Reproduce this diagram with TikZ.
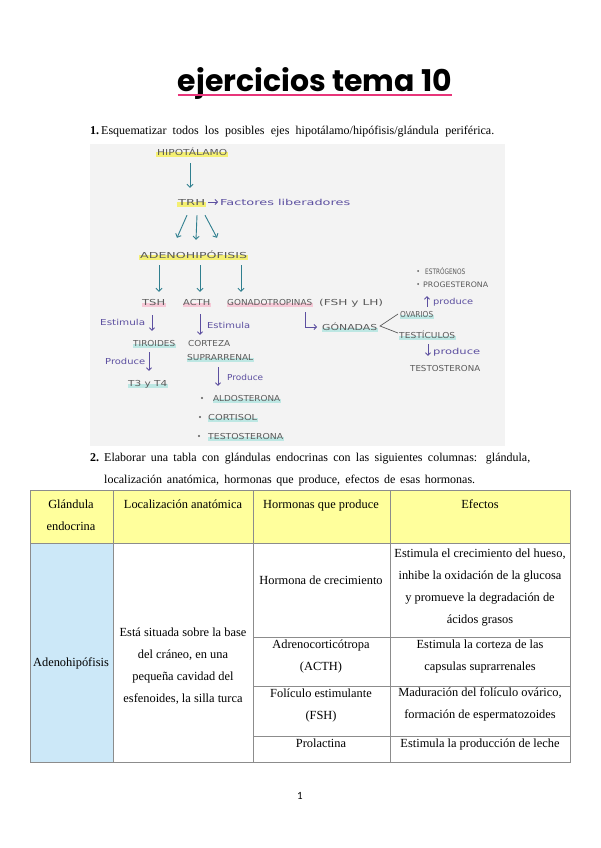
\documentclass[tikz,border=0pt]{standalone}
\usepackage{fontspec}
\setmainfont{Liberation Serif}
\newfontfamily\titlefont{Poppins}
\newfontfamily\hand{DejaVu Sans}
\newfontfamily\pagefont{Carlito}
\usetikzlibrary{arrows.meta,calc,backgrounds}
\definecolor{handc}{HTML}{5A5A5A}
\definecolor{tealc}{HTML}{2F7F8F}
\definecolor{purc}{HTML}{5C4FA0}
\definecolor{hlyel}{HTML}{F4EF72}
\definecolor{hlpink}{HTML}{F6C8D6}
\definecolor{hlteal}{HTML}{BDE7E3}
\definecolor{titlepink}{HTML}{E8357A}
\definecolor{photobg}{HTML}{F3F3F3}
\definecolor{hdrc}{HTML}{FFFF9C}
\definecolor{adnc}{HTML}{CCE8F8}
\definecolor{tlinec}{HTML}{8C8C8C}
\newcommand\hw[3]{\resizebox{#1pt}{#2pt}{\hand\vphantom{H}\smash{#3}}}
\newcommand\cl[1]{\begin{tabular}[t]{@{}c@{}}#1\end{tabular}}
\tikzset{
  hwn/.style={inner sep=0, anchor=base west, text=handc},
  pwn/.style={inner sep=0, anchor=base west, text=purc},
  tarr/.style={draw=tealc, line width=0.9pt, -{Straight Barb[length=3pt,width=6pt]}},
  parr/.style={draw=purc, line width=0.8pt, -{Straight Barb[length=2.5pt,width=5pt]}},
  hly/.style={draw=hlyel, line width=5pt},
  hlp/.style={draw=hlpink, line width=4pt},
  hlt/.style={draw=hlteal, line width=4pt},
  brline/.style={draw=handc, line width=0.7pt},
  tline/.style={draw=tlinec, line width=0.7pt},
  tt/.style={anchor=base, inner sep=0, font=\fontsize{12.4}{22}\selectfont},
  qt/.style={anchor=base west, inner sep=0, font=\fontsize{12}{22}\selectfont},
}
\begin{document}
\begin{tikzpicture}[x=1pt,y=-1pt]
\useasboundingbox (0,0) rectangle (600,848);
\begin{scope}[on background layer]
\fill[white] (0,0) rectangle (600,848);
\fill[photobg] (90,144) rectangle (505,446);
\end{scope}

% title
\node[anchor=base, inner sep=0] (title) at (315,92) {\resizebox{274pt}{!}{\titlefont\bfseries ejercicios tema 10}};
\draw[titlepink, line width=2pt] ($(title.base west)+(0,3.5)$) -- ($(title.base east)+(0,3.5)$);

% question 1
\node[qt] (q1) at (90,135) {\makebox[404pt][s]{\textbf{1.}\,Esquematizar todos los posibles ejes hipotálamo/hipófisis/glándula periférica.}};

% handwritten nodes
\node[hwn] (hip) at (157,155) {\hw{70}{6}{HIPOTÁLAMO}};
\node[hwn] (trh) at (178,205) {\hw{27}{6}{TRH}};
\node[pwn] (lib) at (220,205) {\hw{130}{6}{Factores liberadores}};
\node[hwn] (adeno) at (140,258) {\hw{107}{6}{ADENOHIPÓFISIS}};
\node[hwn] (tsh) at (142,305) {\hw{23}{6}{TSH}};
\node[hwn] (acth) at (183,305) {\hw{27}{6}{ACTH}};
\node[hwn] (gon) at (227,305) {\hw{85}{6}{GONADOTROPINAS}};
\node[hwn] (fshlh) at (319,305) {\hw{64}{6}{(FSH y LH)}};
\node[pwn] (est1) at (100,325) {\hw{45}{6}{Estimula}};
\node[pwn] (est2) at (207,328) {\hw{43}{6}{Estimula}};
\node[hwn] (tir) at (133,346) {\hw{42}{6}{TIROIDES}};
\node[hwn] (cor) at (188,346) {\hw{42}{6}{CORTEZA}};
\node[hwn] (sup) at (187,360) {\hw{66}{6}{SUPRARRENAL}};
\node[pwn] (pro1) at (105,364) {\hw{40}{6}{Produce}};
\node[hwn] (t3) at (128,386) {\hw{39}{6}{T3 y T4}};
\node[pwn] (pro2) at (227,380) {\hw{36}{6}{Produce}};
\node[hwn] (ald) at (213,401) {\hw{67}{6}{ALDOSTERONA}};
\node[hwn] (cort) at (208,420) {\hw{49}{6}{CORTISOL}};
\node[hwn] (test) at (208,439) {\hw{75}{6}{TESTOSTERONA}};
\node[hwn] (gond) at (322,330) {\hw{55}{6}{GÓNADAS}};
\node[hwn] (ov) at (400,317) {\hw{33}{6}{OVARIOS}};
\node[hwn] (tes) at (399,338) {\hw{56}{6}{TESTÍCULOS}};
\node[hwn] (estr) at (425,274) {\hw{40}{5.5}{ESTRÓGENOS}};
\node[hwn] (prog) at (423,287) {\hw{65}{5.5}{PROGESTERONA}};
\node[pwn] (produ) at (433,304) {\hw{40}{6}{produce}};
\node[pwn] (prodd) at (433,354) {\hw{47}{6}{produce}};
\node[hwn] (test2) at (410,371) {\hw{70}{6}{TESTOSTERONA}};
\coordinate (tip) at (380,326);

% bullets
\fill[handc] (202,398) circle (1.1pt);
\fill[handc] (200,417) circle (1.1pt);
\fill[handc] (199,436) circle (1.1pt);
\fill[handc] (418,271) circle (1pt);
\fill[handc] (418,284) circle (1pt);

% highlights
\begin{scope}[on background layer]
\draw[hly] ($(hip.south west)+(-1,-1)$) -- ($(hip.south east)+(1,-1)$);
\draw[hly] ($(trh.south west)+(-1,-1)$) -- ($(trh.south east)+(1,-1)$);
\draw[hly] ($(adeno.south west)+(-1,-1)$) -- ($(adeno.south east)+(1,-1)$);
\draw[hlp] ($(tsh.south west)+(0,0)$) -- ($(tsh.south east)+(1,0)$);
\draw[hlp] ($(acth.south west)+(0,0)$) -- ($(acth.south east)+(1,0)$);
\draw[hlp] ($(gon.south west)+(0,0)$) -- ($(gon.south east)+(1,0)$);
\draw[hlt] ($(tir.south west)+(0,0)$) -- ($(tir.south east)+(1,0)$);
\draw[hlt] ($(sup.south west)+(0,0)$) -- ($(sup.south east)+(1,0)$);
\draw[hlt] ($(t3.south west)+(0,0)$) -- ($(t3.south east)+(1,0)$);
\draw[hlt] ($(ald.south west)+(0,0)$) -- ($(ald.south east)+(1,0)$);
\draw[hlt] ($(cort.south west)+(0,0)$) -- ($(cort.south east)+(1,0)$);
\draw[hlt] ($(test.south west)+(0,0)$) -- ($(test.south east)+(1,0)$);
\draw[hlt] ($(gond.south west)+(0,0)$) -- ($(gond.south east)+(1,0)$);
\draw[hlt] ($(ov.south west)+(0,0)$) -- ($(ov.south east)+(1,0)$);
\draw[hlt] ($(tes.south west)+(0,0)$) -- ($(tes.south east)+(1,0)$);
\end{scope}

% arrows
\draw[tarr] ($(hip.south west)+(33,8)$) -- ($(trh.north west)+(12,-11)$);
\draw[parr] ($(trh.east)+(3,0)$) -- ($(lib.west)+(-2,0)$);
\draw[tarr] ($(trh.south west)+(9,10)$) -- ($(adeno.north west)+(37,-14)$);
\draw[tarr] ($(trh.south west)+(19,10)$) -- ($(adeno.north west)+(56,-12)$);
\draw[tarr] ($(trh.south west)+(27,10)$) -- ($(adeno.north west)+(77,-14)$);
\draw[tarr] ($(adeno.south west)+(19,7)$) -- ($(tsh.north west)+(17,-7)$);
\draw[tarr] ($(adeno.south west)+(60,7)$) -- ($(acth.north west)+(17,-7)$);
\draw[tarr] ($(adeno.south west)+(101,7)$) -- ($(gon.north west)+(14,-7)$);
\draw[parr] ($(tsh.south west)+(10,10)$) -- ($(tir.north west)+(19,-9)$);
\draw[parr] ($(acth.south west)+(17,9)$) -- ($(cor.north west)+(12,-5)$);
\draw[parr] ($(tir.south west)+(16,6)$) -- ($(t3.north west)+(21,-9)$);
\draw[parr] ($(sup.south west)+(31,7)$) -- ($(ald.north west)+(5,-9)$);
\draw[parr, shorten >=5pt] ($(gon.south east)+(-7,7)$) |- (gond.west);
\draw[brline] ($(ov.west)+(-2,0)$) -- (tip) -- ($(tes.west)+(-1,-2)$);
\draw[parr] ($(ov.north west)+(27,-4)$) -- ($(prog.south west)+(4,9)$);
\draw[parr] ($(tes.south west)+(29,6)$) -- ($(test2.north west)+(18,-9)$);

% question 2
\node[qt] (q2n) at (90,461) {\textbf{2.}};
\node[qt] (q2a) at (104,461) {\makebox[426pt][s]{Elaborar una tabla con glándulas endocrinas con las siguientes columnas: glándula,}};
\node[qt] (q2b) at (104,483) {\makebox[371pt][s]{localización anatómica, hormonas que produce, efectos de esas hormonas.}};

% table
\fill[hdrc] (30,490) rectangle (570,543);
\fill[adnc] (30,543) rectangle (113,762);
\draw[tline] (30,490) rectangle (570,762);
\draw[tline] (30,543) -- (570,543);
\foreach \x in {113,253,390} \draw[tline] (\x,490) -- (\x,762);
\foreach \y in {637,686,736} \draw[tline] (253,\y) -- (570,\y);

\node[tt] (h1) at (71,508) {\cl{Glándula\\endocrina}};
\node[tt] (h2) at (183,508) {Localización anatómica};
\node[tt] (h3) at (321,508) {Hormonas que produce};
\node[tt] (h4) at (480,508) {Efectos};
\node[tt] (g1) at (71,666) {Adenohipófisis};
\node[tt] (loc) at (183,636) {\cl{Está situada sobre la base\\del cráneo, en una\\pequeña cavidad del\\esfenoides, la silla turca}};
\node[tt] (hc) at (321,584) {Hormona de crecimiento};
\node[tt] (acthr) at (321,648) {\cl{Adrenocorticótropa\\(ACTH)}};
\node[tt] (fshr) at (321,697) {\cl{Folículo estimulante\\(FSH)}};
\node[tt] (prl) at (321,747) {Prolactina};
\node[tt] (e1) at (480,557) {\cl{Estimula el crecimiento del hueso,\\inhibe la oxidación de la glucosa\\y promueve la degradación de\\ácidos grasos}};
\node[tt] (e2) at (480,648) {\cl{Estimula la corteza de las\\capsulas suprarrenales}};
\node[tt] (e3) at (480,696) {\cl{Maduración del folículo ovárico,\\formación de espermatozoides}};
\node[tt] (e4) at (480,747) {Estimula la producción de leche};

% page number
\node[anchor=base, inner sep=0, font=\pagefont\fontsize{11}{13}\selectfont] (pg) at (300,799) {1};
\end{tikzpicture}
\end{document}
